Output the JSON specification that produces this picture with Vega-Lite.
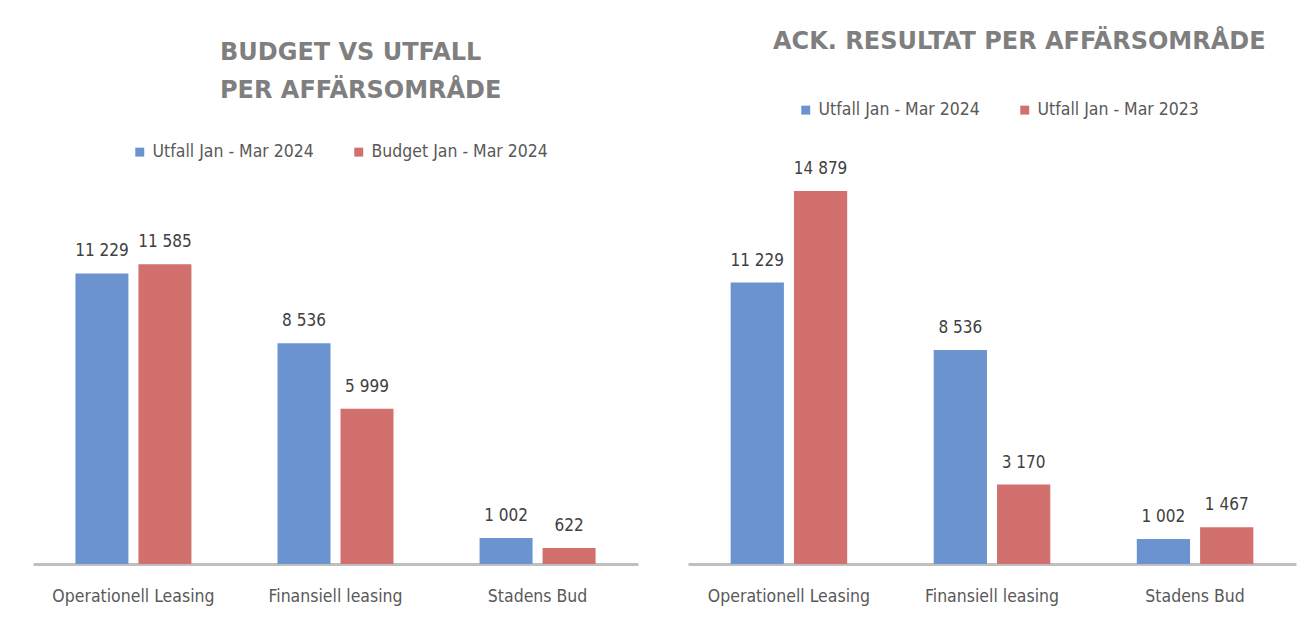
{
  "$schema": "https://vega.github.io/schema/vega-lite/v6.json",
  "padding": {"left": 33, "top": 30, "right": 10, "bottom": 5},
  "background": "white",
  "config": {
    "locale": {"number": {"decimal": ",", "thousands": " ", "grouping": [3], "currency": ["", " kr"]}},
    "view": {"stroke": null},
    "font": "DejaVu Sans Condensed, sans-serif",
    "title": {"font": "DejaVu Sans", "fontWeight": "bold", "fontSize": 24, "color": "#7f7f7f", "lineHeight": 38, "anchor": "start", "frame": "group"},
    "legend": {"orient": "none", "direction": "horizontal", "title": null, "symbolType": "square", "symbolSize": 80, "symbolStrokeWidth": 0, "labelFont": "DejaVu Sans Condensed, sans-serif", "labelFontSize": 17.5, "labelColor": "#595959", "labelOffset": 4, "columnPadding": 36, "labelLimit": 300},
    "axisX": {"domainColor": "#bfbfbf", "domainWidth": 3, "ticks": false, "labelFont": "DejaVu Sans Condensed, sans-serif", "labelFontSize": 17.5, "labelColor": "#595959", "labelPadding": 23, "labelAngle": 0, "title": null, "grid": false},
    "axisY": {"disable": true}
  },
  "datasets": {
    "left": [
      {"omrade": "Operationell Leasing", "serie": "Utfall Jan - Mar 2024", "varde": 11229},
      {"omrade": "Operationell Leasing", "serie": "Budget Jan - Mar 2024", "varde": 11585},
      {"omrade": "Finansiell leasing", "serie": "Utfall Jan - Mar 2024", "varde": 8536},
      {"omrade": "Finansiell leasing", "serie": "Budget Jan - Mar 2024", "varde": 5999},
      {"omrade": "Stadens Bud", "serie": "Utfall Jan - Mar 2024", "varde": 1002},
      {"omrade": "Stadens Bud", "serie": "Budget Jan - Mar 2024", "varde": 622}
    ],
    "right": [
      {"omrade": "Operationell Leasing", "serie": "Utfall Jan - Mar 2024", "varde": 11229},
      {"omrade": "Operationell Leasing", "serie": "Utfall Jan - Mar 2023", "varde": 14879},
      {"omrade": "Finansiell leasing", "serie": "Utfall Jan - Mar 2024", "varde": 8536},
      {"omrade": "Finansiell leasing", "serie": "Utfall Jan - Mar 2023", "varde": 3170},
      {"omrade": "Stadens Bud", "serie": "Utfall Jan - Mar 2024", "varde": 1002},
      {"omrade": "Stadens Bud", "serie": "Utfall Jan - Mar 2023", "varde": 1467}
    ]
  },
  "spacing": 50,
  "resolve": {"scale": {"color": "independent", "y": "independent", "x": "independent", "xOffset": "independent"}},
  "hconcat": [
    {
      "width": 605,
      "height": 401,
      "title": {"text": ["BUDGET VS UTFALL", "PER AFFÄRSOMRÅDE"], "dx": 187, "offset": 40},
      "data": {"name": "left"},
      "encoding": {
        "x": {"field": "omrade", "type": "nominal", "sort": null, "scale": {"paddingInner": 0.426, "paddingOuter": 0.21}},
        "xOffset": {"field": "serie", "type": "nominal", "sort": ["Utfall Jan - Mar 2024", "Budget Jan - Mar 2024"], "scale": {"paddingInner": 0.159, "paddingOuter": 0}},
        "y": {"field": "varde", "type": "quantitative", "scale": {"domain": [0, 15500]}}
      },
      "layer": [
        {
          "mark": {"type": "bar"},
          "encoding": {
            "color": {"field": "serie", "type": "nominal", "scale": {"domain": ["Utfall Jan - Mar 2024", "Budget Jan - Mar 2024"], "range": ["#6a93cf", "#d1706d"]}, "legend": {"legendX": 98, "legendY": -20}}
          }
        },
        {
          "mark": {"type": "text", "baseline": "bottom", "dy": -13, "fontSize": 17, "color": "#404040"},
          "encoding": {"text": {"field": "varde", "type": "quantitative", "format": ",d"}}
        }
      ]
    },
    {
      "width": 608,
      "height": 401,
      "title": {"text": "ACK. RESULTAT PER AFFÄRSOMRÅDE", "dx": 85, "offset": 47},
      "data": {"name": "right"},
      "encoding": {
        "x": {"field": "omrade", "type": "nominal", "sort": null, "scale": {"paddingInner": 0.426, "paddingOuter": 0.21}},
        "xOffset": {"field": "serie", "type": "nominal", "sort": ["Utfall Jan - Mar 2024", "Utfall Jan - Mar 2023"], "scale": {"paddingInner": 0.159, "paddingOuter": 0}},
        "y": {"field": "varde", "type": "quantitative", "scale": {"domain": [0, 16000]}}
      },
      "layer": [
        {
          "mark": {"type": "bar"},
          "encoding": {
            "color": {"field": "serie", "type": "nominal", "scale": {"domain": ["Utfall Jan - Mar 2024", "Utfall Jan - Mar 2023"], "range": ["#6a93cf", "#d1706d"]}, "legend": {"legendX": 109, "legendY": -62}}
          }
        },
        {
          "mark": {"type": "text", "baseline": "bottom", "dy": -13, "fontSize": 17, "color": "#404040"},
          "encoding": {"text": {"field": "varde", "type": "quantitative", "format": ",d"}}
        }
      ]
    }
  ]
}
